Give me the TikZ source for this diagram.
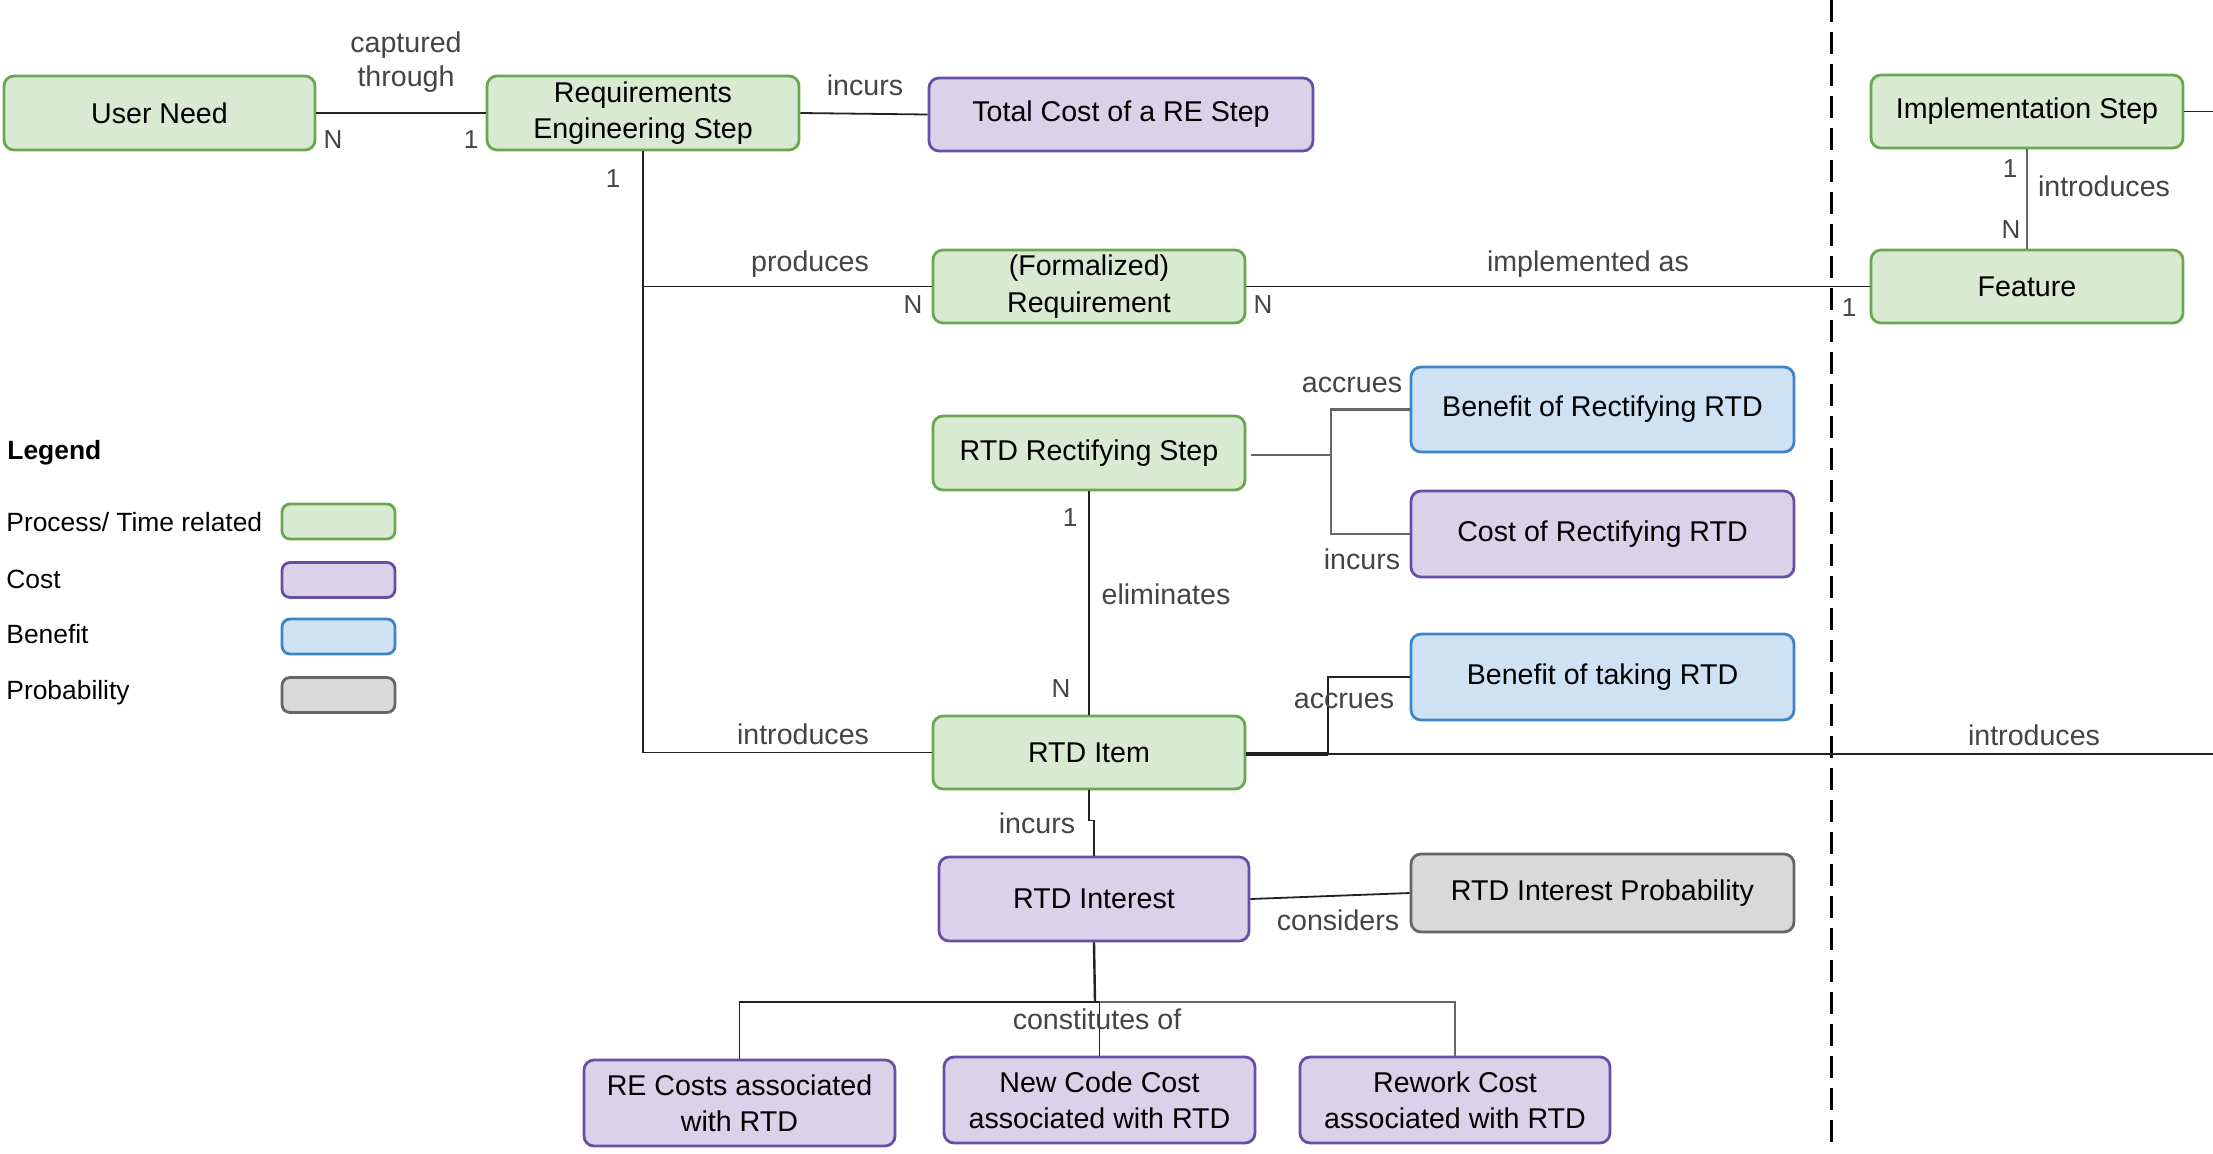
\documentclass[tikz,border=0pt]{standalone}
\usepackage{fontspec}
\setmainfont{Liberation Sans}
\begin{document}
\begin{tikzpicture}[x=0.5pt,y=-0.5pt,
  box/.style={rectangle, rounded corners=5pt, line width=1.4pt, align=center,
    font=\fontsize{14.3pt}{18.2pt}\selectfont, inner sep=0pt},
  pbox/.style={box, draw=procS, fill=procF},
  cbox/.style={box, draw=costS, fill=costF},
  bbox/.style={box, draw=beneS, fill=beneF},
  gbox/.style={box, draw=probS, fill=probF},
  lbl/.style={text=labelC, font=\fontsize{14.3pt}{17pt}\selectfont, inner sep=0pt, align=center},
  card/.style={text=labelC, font=\fontsize{13pt}{15pt}\selectfont, inner sep=0pt},
  leg/.style={anchor=west, font=\fontsize{13.2pt}{16pt}\selectfont, inner sep=0pt},
  conn/.style={draw=lineC, line width=0.9pt},
  gconn/.style={draw=gray!80!black, line width=1.3pt},
]
\definecolor{procF}{HTML}{D9EAD3}\definecolor{procS}{HTML}{6AA84F}
\definecolor{costF}{HTML}{D9D2E9}\definecolor{costS}{HTML}{674EA7}
\definecolor{beneF}{HTML}{CFE2F3}\definecolor{beneS}{HTML}{3D85C6}
\definecolor{probF}{HTML}{D9D9D9}\definecolor{probS}{HTML}{666666}
\definecolor{labelC}{HTML}{444444}
\definecolor{lineC}{HTML}{222222}
\useasboundingbox (0,0) rectangle (2213,1153);

% nodes
\node[pbox, minimum width=155.5pt, minimum height=37pt] (un) at (159.5,113) {User Need};
\node[pbox, minimum width=156pt, minimum height=37pt] (re) at (643,113) {Requirements\\Engineering Step};
\node[cbox, minimum width=192pt, minimum height=36.5pt] (tc) at (1121,114.5) {Total Cost of a RE Step};
\node[pbox, minimum width=156pt, minimum height=36.5pt] (fr) at (1089,286.5) {(Formalized)\\Requirement};
\node[pbox, minimum width=156pt, minimum height=36.5pt] (is) at (2027,111.5) {Implementation Step};
\node[pbox, minimum width=156pt, minimum height=36.5pt] (fe) at (2027,286.5) {Feature};
\node[pbox, minimum width=156pt, minimum height=37pt] (rs) at (1089,453) {RTD Rectifying Step};
\node[bbox, minimum width=191.5pt, minimum height=42.5pt] (br) at (1602.5,409.5) {Benefit of Rectifying RTD};
\node[cbox, minimum width=191.5pt, minimum height=43pt] (cr) at (1602.5,534) {Cost of Rectifying RTD};
\node[bbox, minimum width=191.5pt, minimum height=43pt] (bt) at (1602.5,677) {Benefit of taking RTD};
\node[pbox, minimum width=156pt, minimum height=36.5pt] (ri) at (1089,752.5) {RTD Item};
\node[cbox, minimum width=155pt, minimum height=42pt] (rint) at (1094,899) {RTD Interest};
\node[gbox, minimum width=191.5pt, minimum height=39pt] (rip) at (1602.5,893) {RTD Interest Probability};
\node[cbox, minimum width=155.5pt, minimum height=43pt] (rec) at (739.5,1103) {RE Costs associated\\with RTD};
\node[cbox, minimum width=155.5pt, minimum height=43pt] (ncc) at (1099.5,1100) {New Code Cost\\associated with RTD};
\node[cbox, minimum width=155pt, minimum height=43pt] (rwc) at (1455,1100) {Rework Cost\\associated with RTD};

% legend
\node[leg, font=\fontsize{13.2pt}{16pt}\selectfont\bfseries] (legt) at (7,453) {Legend};
\node[leg] (l1) at (6,522) {Process/ Time related};
\node[leg] (l2) at (6,579) {Cost};
\node[leg] (l3) at (6,634) {Benefit};
\node[leg] (l4) at (6,693) {Probability};
\node[pbox, minimum width=56.5pt, minimum height=17.5pt, rounded corners=4pt] (lb1) at (338.5,521.5) {};
\node[cbox, minimum width=56.5pt, minimum height=17.5pt, rounded corners=4pt] (lb2) at (338.5,580) {};
\node[bbox, minimum width=56.5pt, minimum height=17.5pt, rounded corners=4pt] (lb3) at (338.5,636.5) {};
\node[gbox, minimum width=56.5pt, minimum height=17.5pt, rounded corners=4pt] (lb4) at (338.5,695) {};

% dashed separator
\coordinate (dtop) at (1831,0);
\coordinate (dbot) at (1831,1146);
\draw[line width=1.5pt, dash pattern=on 11pt off 5pt] (dtop) -- (dbot);

% connectors
\draw[conn] (un.east) -- (re.west);
\draw[conn] (re.east) -- (tc.west);
\draw[conn] (re.south) |- (ri.west);
\draw[conn] (re.south |- fr.west) -- (fr.west);
\draw[conn] (fr.east) -- (fe.west);
\draw[gconn, line width=1pt] (is.south) -- (fe.north);
\coordinate (isedge) at (2213,111.5);
\draw[conn] (is.east) -- (isedge);

\coordinate (j1) at (1331,455);
\draw[gconn] (rs.east) ++(5,2) -- (j1);
\draw[gconn] (j1) |- (br.west);
\draw[gconn] (j1) |- (cr.west);
\draw[conn] (rs.south) -- (ri.north);

\coordinate (riedge) at (2213,754);
\coordinate (j2) at (1328,754);
\draw[conn, line width=1.8pt] (ri.east) ++(0,1.5) -- (j2);
\draw[conn] (j2) -- (riedge);
\draw[conn] (j2) |- (bt.west);

\draw[conn] (ri.south) -- ++(0,30) -| (rint.north);
\draw[conn] (rint.east) -- (rip.west);
\coordinate (j3) at (1095,1002);
\draw[conn, line width=1.2pt] (rint.south) -- (j3);
\draw[conn] (j3) -| (rec.north);
\draw[gconn] (j3) -| (rwc.north);
\draw[conn] (j3) -| (ncc.north);

% connector labels
\node[lbl] (t1) at (406,62) {captured\\through};
\node[card] (c1) at (333,140) {N};
\node[card] (c2) at (471,140) {1};
\node[lbl] (t2) at (865,85) {incurs};
\node[card] (c3) at (613,179) {1};
\node[lbl] (t3) at (810,264) {produces};
\node[card] (c4) at (913,305) {N};
\node[lbl] (t4) at (1588,264) {implemented as};
\node[card] (c5) at (1263,305) {N};
\node[card] (c6) at (1849,308) {1};
\node[card] (c7) at (2010,169) {1};
\node[card] (c8) at (2011,230) {N};
\node[lbl] (t5) at (2104,186) {introduces};
\node[lbl] (t6) at (1352,385) {accrues};
\node[lbl] (t7) at (1362,559) {incurs};
\node[card] (c9) at (1070,518) {1};
\node[card] (c10) at (1061,689) {N};
\node[lbl] (t8) at (1166,594) {eliminates};
\node[lbl] (t9) at (803,734) {introduces};
\node[lbl] (t10) at (1344,701) {accrues};
\node[lbl] (t11) at (2034,735) {introduces};
\node[lbl] (t12) at (1037,823) {incurs};
\node[lbl] (t13) at (1338,920) {considers};
\node[lbl] (t14) at (1097,1019) {constitutes of};
\end{tikzpicture}
\end{document}
